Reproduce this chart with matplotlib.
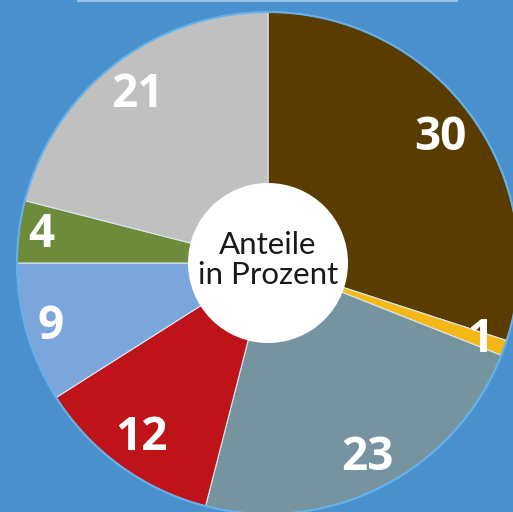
import numpy as np
import matplotlib.pyplot as plt
from matplotlib.patches import Circle

# Anteile in Prozent, im Uhrzeigersinn ab 12 Uhr
werte = [30, 1, 23, 12, 9, 4, 21]
beschriftung = ['30', '1', '23', '12', '9', '4', '21']
farben = ['#5a3c00', '#f6b816', '#7594a0', '#be1419', '#7ba6dc', '#6e8a3b', '#c0c0c1']
# Abstand der Zahlen vom Mittelpunkt (Anteil am Radius)
abstand = [0.85, 0.90, 0.87, 0.86, 0.90, 0.91, 0.85]

hintergrund = '#4a90cc'
W, H = 513, 512
mitte = (268, H - 263)
radius = 251

fig = plt.figure(figsize=(W / 100, H / 100), dpi=100, facecolor=hintergrund)
ax = fig.add_axes([0, 0, 1, 1])
ax.set_facecolor(hintergrund)

wedges, _ = ax.pie(
    werte, colors=farben, startangle=90, counterclock=False,
    center=mitte, radius=radius,
    wedgeprops=dict(edgecolor='#d9e6ef', linewidth=0.8))

for w, txt, d in zip(wedges, beschriftung, abstand):
    winkel = np.deg2rad((w.theta1 + w.theta2) / 2)
    x = mitte[0] + d * radius * np.cos(winkel)
    y = mitte[1] + d * radius * np.sin(winkel)
    ax.text(x, y, txt, ha='center', va='center', color='white', fontsize=33,
            fontweight='bold', family=['Open Sans', 'DejaVu Sans'], zorder=4)

# heller Rand um den Kreis
ax.add_patch(Circle(mitte, radius, fill=False, edgecolor='#62b0ea', linewidth=1.5))
# weisses Loch in der Mitte
ax.add_patch(Circle(mitte, 80, facecolor='white', edgecolor='none', zorder=3))
ax.text(mitte[0], mitte[1] + 3, 'Anteile\nin Prozent', ha='center', va='center',
        fontsize=22.5, color='#1a1a1a', family=['Lato', 'DejaVu Sans'],
        linespacing=1.1, zorder=4)

# feine Linie oben
ax.axhline(H - 0.5, xmin=78 / W, xmax=457 / W, color='#a8cbe8', linewidth=1.2)

ax.set_xlim(0, W)
ax.set_ylim(0, H)
ax.set_aspect('equal')
ax.axis('off')

fig.savefig('out.png', dpi=100, facecolor=hintergrund)
